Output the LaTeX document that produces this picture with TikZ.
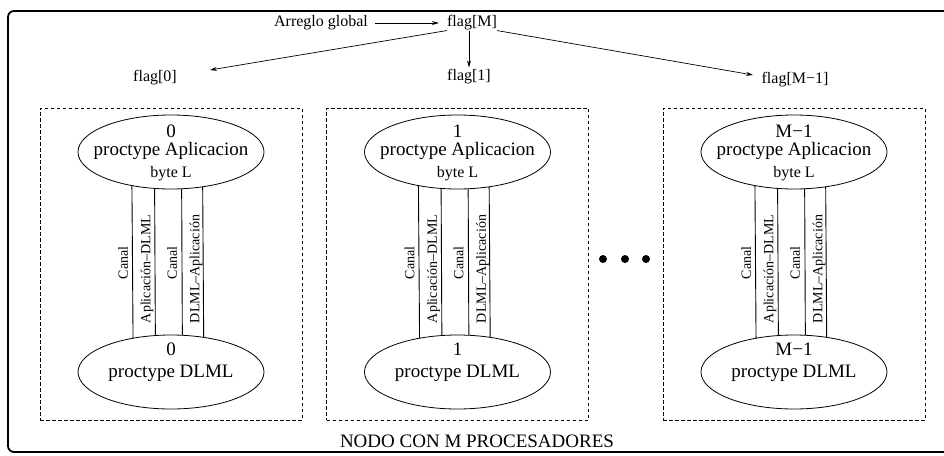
\documentclass[tikz,border=0pt]{standalone}
\usepackage{fontspec}
\setmainfont{Liberation Serif}
\usetikzlibrary{arrows.meta,shapes.geometric}
\begin{document}
\begin{tikzpicture}[x=1pt,y=-1pt,
  big/.style={font=\fontsize{19}{21}\selectfont, inner sep=0pt},
  mid/.style={font=\fontsize{16}{18}\selectfont, inner sep=0pt},
  rot/.style={font=\fontsize{14}{16}\selectfont, inner sep=0pt, rotate=90},
  proc/.style={draw, ellipse, minimum width=186pt, minimum height=74pt, inner sep=0pt, line width=0.8pt},
  dbox/.style={draw, dash pattern=on 3.5pt off 2.5pt, line width=0.9pt, minimum width=262pt, minimum height=312pt, inner sep=0pt},
  arr/.style={-{Stealth[length=7pt,width=4pt]}, line width=0.7pt},
  chan/.style={line width=0.9pt},
  dot/.style={circle, fill, inner sep=0pt, minimum size=8pt}]
\useasboundingbox (0,0) rectangle (944,455);
% outer frame
\draw[line width=1.8pt, rounded corners=6pt] (8,11) rectangle (960,452);
% top labels
\node[mid] (arreglo) at (321,23) {Arreglo global};
\node[mid] (flagM) at (472,23) {flag[M]};
\node[mid] (flag0) at (155,78) {flag[0]};
\node[mid] (flag1) at (469,77) {flag[1]};
\node[mid] (flagM1) at (795,80) {flag[M−1]};
\coordinate (t0) at (210,70);
\coordinate (tM1) at (753,75);
\draw[arr] ([xshift=7pt]arreglo.east) -- ([xshift=-8pt]flagM.west);
\draw[arr] (flagM.south west) -- (t0);
\draw[arr] (flagM.south -| flag1.north) -- ([yshift=2pt]flag1.north);
\draw[arr] (flagM.south east) -- (tM1);
% processor boxes
\foreach \cx/\lab/\i in {171/0/a, 457.5/1/b, 794/{M−1}/c}{
  \node[dbox] (box\i) at (\cx,264) {};
  \node[proc] (app\i) at (\cx,152) {};
  \node[proc] (dlml\i) at (\cx,372) {};
  \node[big] (appn\i) at (\cx,131) {\lab};
  \node[big] (appt\i) at (\cx,151) {proctype Aplicacion};
  \node[mid] (appb\i) at (\cx,174) {byte L};
  \node[big] (dlmln\i) at (\cx,349) {\lab};
  \node[big] (dlmlt\i) at (\cx,373) {proctype DLML};
  \draw[chan] (app\i.221.63) -- (dlml\i.138.37);
  \draw[chan] (app\i.246.30) -- (dlml\i.113.70);
  \draw[chan] (app\i.286.67) -- (dlml\i.73.33);
  \draw[chan] (app\i.312.65) -- (dlml\i.47.35);
  \node[rot] (ca\i) at (\cx-48,263) {Canal};
  \node[rot] (ad\i) at (\cx-24,269) {Aplicación–DLML};
  \node[rot] (cb\i) at (\cx+1,263) {Canal};
  \node[rot] (da\i) at (\cx+25,269) {DLML–Aplicación};
}
% dots
\node[dot] (d1) at (603,259) {};
\node[dot] (d2) at (625,259) {};
\node[dot] (d3) at (646,259) {};
% caption
\node[big] (nodo) at (477,441) {NODO CON M PROCESADORES};
\end{tikzpicture}
\end{document}
